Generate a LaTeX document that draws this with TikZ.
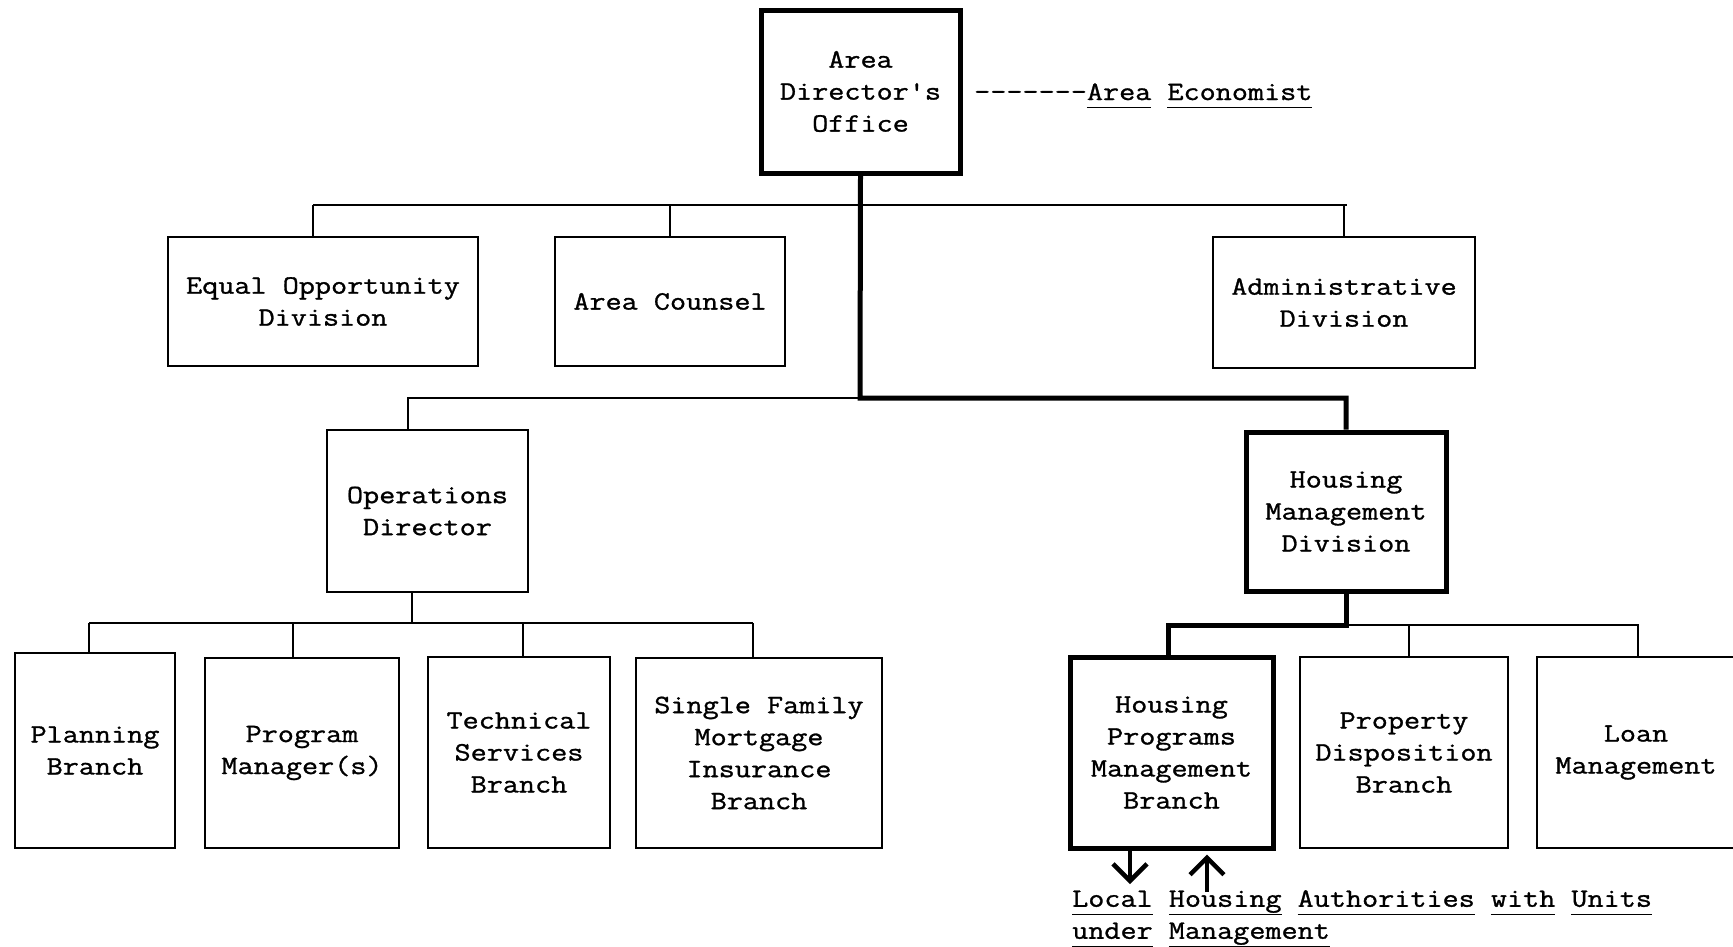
\documentclass[tikz,border=0pt]{standalone}
\usepackage{fontspec}
\setmonofont{Latin Modern Mono}[FakeStretch=1.18, FakeBold=1.1]
\usetikzlibrary{arrows.meta}
\newcommand\fs{\ttfamily\fontsize{26.5}{32}\selectfont}
\newcommand\uw[1]{\underline{#1\vphantom{g}}}
\begin{document}
\begin{tikzpicture}[x=1pt,y=-1pt,
  box/.style={draw, line width=2.2pt, inner sep=0pt, align=center, font=\fs},
  bbox/.style={box, line width=5pt},
  ln/.style={line width=2.2pt},
  tk/.style={line width=5pt},
  arr/.style={line width=4.5pt, -{Straight Barb[length=17pt, width=34pt, line width=4.5pt]}},
  lbl/.style={inner sep=0pt, font=\fs, align=left}
  ]
\useasboundingbox (0,0) rectangle (1733,946);
\fill[white] (0,0) rectangle (1733,946);

% boxes
\node[bbox, minimum width=199pt, minimum height=163pt] (ado) at (860.5,91.5) {Area\\Director's\\Office};
\node[lbl, anchor=base west] (econ) at (974,100) {-------\uw{Area} \uw{Economist}};

\node[box, minimum width=310pt, minimum height=129pt] (eo) at (323,301.5) {Equal Opportunity\\Division};
\node[box, minimum width=230pt, minimum height=129pt] (ac) at (670,301.5) {Area Counsel};
\node[box, minimum width=262pt, minimum height=131pt] (adm) at (1344,302.5) {Administrative\\Division};

\node[box, minimum width=201pt, minimum height=162pt] (ops) at (427.5,511) {Operations\\Director};
\node[bbox, minimum width=200pt, minimum height=159pt] (hmd) at (1346,511.5) {Housing\\Management\\Division};

\node[box, minimum width=160pt, minimum height=195pt] (plan) at (95,750.5) {Planning\\Branch};
\node[box, minimum width=194pt, minimum height=190pt] (pm) at (302,753) {Program\\Manager(s)};
\node[box, minimum width=182pt, minimum height=191pt] (tech) at (519,752.5) {Technical\\Services\\Branch};
\node[box, minimum width=246pt, minimum height=190pt] (sfmi) at (759,753) {Single Family\\Mortgage\\Insurance\\Branch};

\node[bbox, minimum width=203pt, minimum height=191pt] (hpmb) at (1171.5,752.5) {Housing\\Programs\\Management\\Branch};
\node[box, minimum width=208pt, minimum height=191pt] (prop) at (1404,752.5) {Property\\Disposition\\Branch};
\node[box, minimum width=198pt, minimum height=191pt] (loan) at (1636,752.5) {Loan\\Management};

\node[lbl, anchor=north west] (lha) at (1072,890) {\uw{Local} \uw{Housing} \uw{Authorities} \uw{with} \uw{Units}\\\uw{under} \uw{Management}};

% coordinates
\coordinate (t1) at (313,205);
\coordinate (t2) at (1347,205);
\coordinate (j1) at (860,398);
\coordinate (od) at (408,398);
\coordinate (ob) at (412,623);
\coordinate (b1) at (89,623);
\coordinate (b2) at (293,623);
\coordinate (b3) at (523,623);
\coordinate (b4) at (753,623);
\coordinate (hb) at (1346,625);
\coordinate (h1) at (1168,625);
\coordinate (h2) at (1409,625);
\coordinate (h3) at (1638,625);
\coordinate (a1) at (1130,884);
\coordinate (a2) at (1207,892);

% top level thin bus
\draw[ln] (t1) -- (t2);
\draw[ln] (t1) -- (t1 |- eo.north);
\draw[ln] (ac.north |- t1) -- (ac.north);
\draw[ln] (adm.north |- t1) -- (adm.north);

% thick main line
\draw[tk] (ado.south) -- (j1) -| (hmd.north);

% operations
\draw[ln] (j1) -- (od) -- (od |- ops.north);
\draw[ln] (ops.south -| ob) -- (ob);
\draw[ln] (b1) -- (b4);
\draw[ln] (b1) -- (b1 |- plan.north);
\draw[ln] (b2) -- (b2 |- pm.north);
\draw[ln] (b3) -- (b3 |- tech.north);
\draw[ln] (b4) -- (b4 |- sfmi.north);

% housing management
\draw[tk] (hmd.south) -- (hb) -- (h1) -- (h1 |- hpmb.north);
\draw[ln] (hb) -- (h3) -- (h3 |- loan.north);
\draw[ln] (h2) -- (h2 |- prop.north);

% arrows
\draw[arr] (hpmb.south -| a1) -- (a1);
\draw[arr, shorten >=4pt] (a2) -- (hpmb.south -| a2);
\end{tikzpicture}
\end{document}
